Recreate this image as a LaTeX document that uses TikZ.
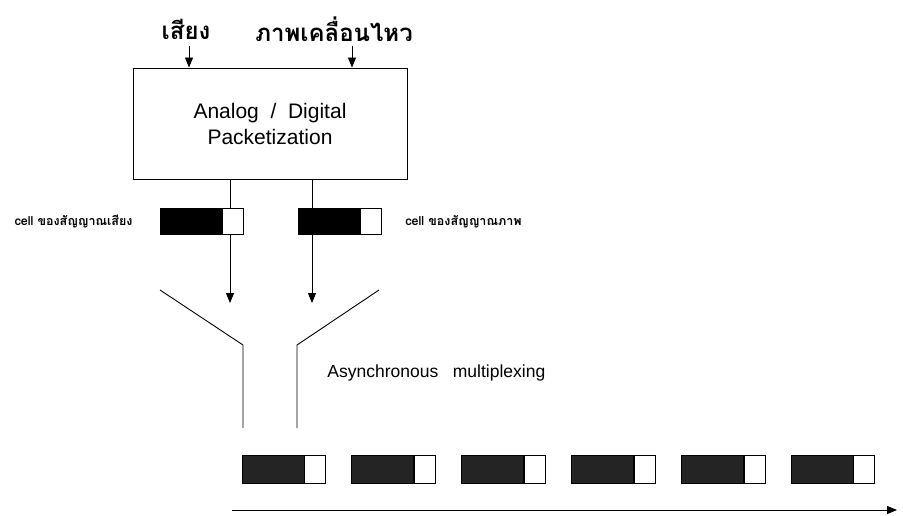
\documentclass[tikz,border=0pt]{standalone}
\usepackage{fontspec}
\setmainfont{Liberation Sans}
\newfontfamily\thaifont[Script=Thai]{Loma}
\usepackage{tikz}
\usetikzlibrary{arrows.meta}
\usetikzlibrary{positioning}

\tikzset{
  thaititle/.style={font=\thaifont\bfseries\fontsize{24}{28}\selectfont, inner sep=0pt},
  thaicell/.style={font=\thaifont\bfseries\fontsize{12.5}{14}\selectfont, inner sep=0pt},
  cellbody/.style={draw, fill=black, minimum width=62pt, minimum height=26pt, inner sep=0pt, line width=0.8pt},
  celltail/.style={draw, fill=white, minimum width=21pt, minimum height=26pt, inner sep=0pt, line width=0.8pt},
  rowbody/.style={cellbody, fill=black!86, minimum height=28pt},
  rowtail/.style={celltail, minimum height=28pt},
}

\begin{document}
\begin{tikzpicture}[x=1pt,y=-1pt,->,>={Triangle[length=10pt,width=8pt]},line width=0.9pt,node distance=0pt]
\useasboundingbox (0,0) rectangle (903,516);

% inputs and packetizer
\node[thaititle] (voice) at (186,29) {เสียง};
\node[thaititle] (video) at (334,29) {ภาพเคลื่อนไหว};
\node[draw, minimum width=274pt, minimum height=111pt, align=center,
      font=\fontsize{21}{26}\selectfont] (pkt) at (270,123.5) {Analog \ / \ Digital\\Packetization};

\coordinate (vin) at (189,46);
\coordinate (pin) at (352,46);
\draw[->] (vin) -- (vin |- pkt.north);
\draw[->] (pin) -- (pin |- pkt.north);

% cells leaving the packetizer
\coordinate (vout) at (230,303);
\coordinate (pout) at (312,303);
\draw[->] (vout |- pkt.south) -- (vout);
\draw[->] (pout |- pkt.south) -- (pout);

\node[cellbody] (vcell) at (191,221) {};
\node[celltail, right=of vcell] (vcellt) {};
\node[cellbody] (pcell) at (329,221) {};
\node[celltail, right=of pcell] (pcellt) {};

\node[thaicell, anchor=east] (vlabel) at (133,221) {cell ของสัญญาณเสียง};
\node[thaicell, anchor=west] (plabel) at (405,222) {cell ของสัญญาณภาพ};

% funnel
\draw[-] (160,290) -- (243,345) -- (243,428);
\draw[-] (379,290) -- (297,345) -- (297,428);
\node[anchor=west, inner sep=0pt, font=\fontsize{17.5}{20}\selectfont] (mux) at (327,373) {Asynchronous \ \ multiplexing};

% multiplexed stream
\foreach \i in {0,...,5} {
  \node[rowbody] (b\i) at (273+109.8*\i,469) {};
  \node[rowtail, right=of b\i] (t\i) {};
}
\coordinate (tstart) at (232,510);
\coordinate (tend) at (897,510);
\draw[->] (tstart) -- (tend);
\end{tikzpicture}
\end{document}
